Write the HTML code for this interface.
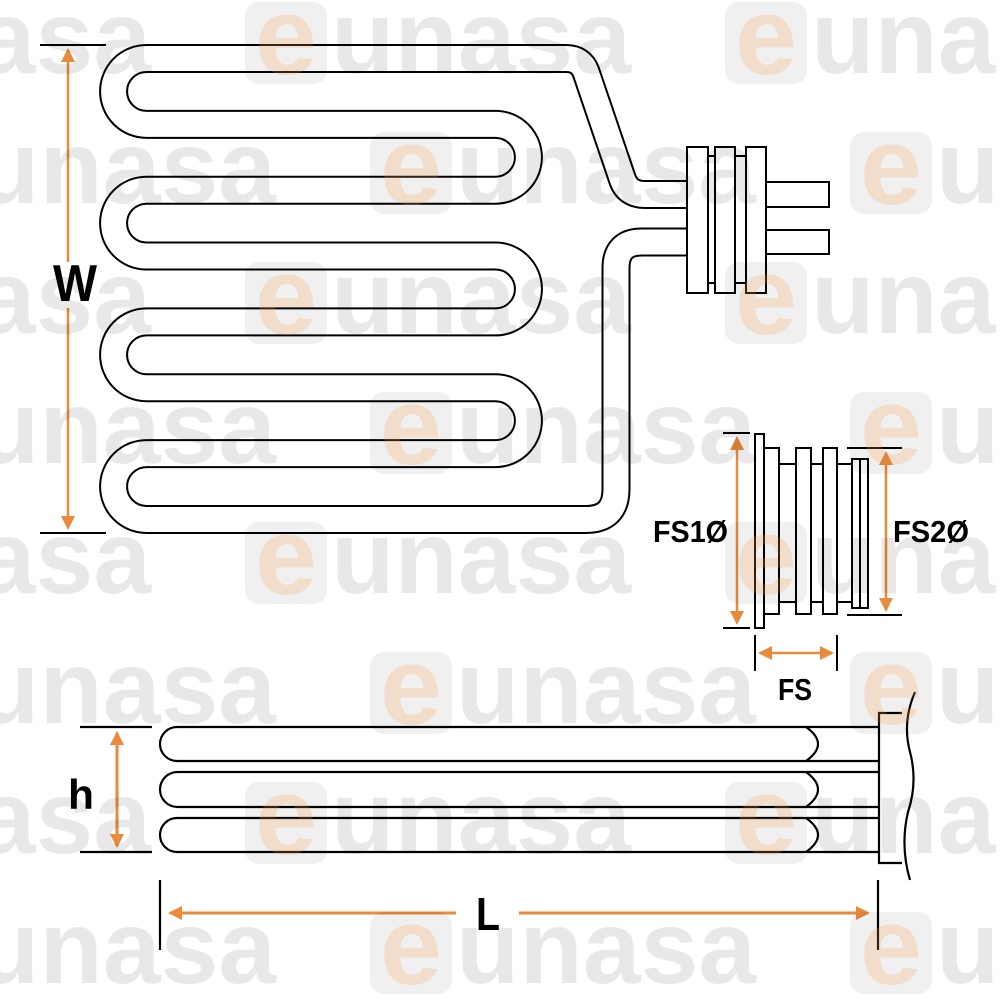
<!DOCTYPE html>
<html><head><meta charset="utf-8"><style>html,body{margin:0;padding:0;background:#fff}svg{display:block}</style></head>
<body>
<svg width="1000" height="1000" viewBox="0 0 1000 1000" xmlns="http://www.w3.org/2000/svg">
<rect width="1000" height="1000" fill="#fff"/>
<defs>
<marker id="ah" markerWidth="14" markerHeight="14" refX="12" refY="7" orient="auto-start-reverse" markerUnits="userSpaceOnUse" viewBox="0 0 14 14">
<path d="M0,0 L14,7 L0,14 z" fill="#ea8a3c"/></marker>
</defs>
<g fill="none" stroke-linejoin="round">
<path d="M 690 194.5 L 645 194.5 Q 627 194.5 622 178 L 586 72 Q 581 58.5 566 58.5 L 146.5 58.5 A 32.9 32.9 0 0 0 146.5 124.35 L 495.5 124.35 A 32.9 32.9 0 0 1 495.5 190.2 L 146.5 190.2 A 32.9 32.9 0 0 0 146.5 256.05 L 495.5 256.05 A 32.9 32.9 0 0 1 495.5 321.9 L 146.5 321.9 A 32.9 32.9 0 0 0 146.5 387.75 L 495.5 387.75 A 32.9 32.9 0 0 1 495.5 453.6 L 146.5 453.6 A 32.9 32.9 0 0 0 146.5 519.45 L 586 519.45 Q 616 519.45 616 489 L 616 268 Q 616 242 642 242 L 690 242" stroke="#000" stroke-width="29"/>
<path d="M 690 194.5 L 645 194.5 Q 627 194.5 622 178 L 586 72 Q 581 58.5 566 58.5 L 146.5 58.5 A 32.9 32.9 0 0 0 146.5 124.35 L 495.5 124.35 A 32.9 32.9 0 0 1 495.5 190.2 L 146.5 190.2 A 32.9 32.9 0 0 0 146.5 256.05 L 495.5 256.05 A 32.9 32.9 0 0 1 495.5 321.9 L 146.5 321.9 A 32.9 32.9 0 0 0 146.5 387.75 L 495.5 387.75 A 32.9 32.9 0 0 1 495.5 453.6 L 146.5 453.6 A 32.9 32.9 0 0 0 146.5 519.45 L 586 519.45 Q 616 519.45 616 489 L 616 268 Q 616 242 642 242 L 690 242" stroke="#fff" stroke-width="25"/>
</g>
<g fill="#fff" stroke="#000" stroke-width="2">
<rect x="766" y="182" width="63" height="25"/>
<rect x="766" y="230" width="63" height="24"/>
<rect x="707" y="156" width="9" height="127"/>
<rect x="734" y="156" width="13" height="127"/>
<rect x="687" y="147" width="21" height="146"/>
<rect x="715" y="147" width="20" height="146"/>
<rect x="746" y="147" width="20" height="146"/>
</g>
<g stroke="#000" stroke-width="2">
<line x1="40" y1="45" x2="106" y2="45"/>
<line x1="40" y1="533" x2="106" y2="533"/>
</g>
<line x1="68" y1="50" x2="68" y2="262" stroke="#ea8a3c" stroke-width="2.5" marker-start="url(#ah)"/>
<line x1="68" y1="308" x2="68" y2="528" stroke="#ea8a3c" stroke-width="2.5" marker-end="url(#ah)"/>
<text x="53" y="301" font-family="Liberation Sans, sans-serif" font-weight="bold" font-size="52" textLength="44" lengthAdjust="spacingAndGlyphs">W</text>
<g fill="#fff" stroke="#000" stroke-width="2">
<rect x="779" y="464" width="73" height="138"/>
<rect x="764" y="448" width="15" height="166"/>
<rect x="796" y="448" width="15" height="166"/>
<rect x="823" y="448" width="14" height="166"/>
<rect x="852" y="459" width="8" height="149"/>
<rect x="860" y="459" width="8" height="149"/>
<rect x="755" y="434" width="9" height="194"/>
</g>
<g stroke="#000" stroke-width="2">
<line x1="723" y1="433" x2="750" y2="433"/>
<line x1="723" y1="628" x2="750" y2="628"/>
<line x1="847" y1="448" x2="902" y2="448"/>
<line x1="847" y1="615" x2="902" y2="615"/>
<line x1="755" y1="635" x2="755" y2="671"/>
<line x1="837" y1="635" x2="837" y2="671"/>
</g>
<g stroke="#ea8a3c" stroke-width="2.5" fill="none">
<line x1="737" y1="438" x2="737" y2="623" marker-start="url(#ah)" marker-end="url(#ah)"/>
<line x1="886" y1="453" x2="886" y2="610" marker-start="url(#ah)" marker-end="url(#ah)"/>
<line x1="760" y1="653" x2="832" y2="653" marker-start="url(#ah)" marker-end="url(#ah)"/>
</g>
<g font-family="Liberation Sans, sans-serif" font-weight="bold" font-size="31" fill="#000">
<text x="653" y="542" textLength="75" lengthAdjust="spacingAndGlyphs">FS1Ø</text>
<text x="893" y="542" textLength="76" lengthAdjust="spacingAndGlyphs">FS2Ø</text>
<text x="778" y="700" textLength="34" lengthAdjust="spacingAndGlyphs">FS</text>
</g>
<g fill="none" stroke="#000" stroke-width="2.2">
<path d="M 879 727 L 177 727 A 17 17 0 0 0 177 761 L 879 761"/>
<path d="M 879 772 L 177.5 772 A 17.5 17.5 0 0 0 177.5 807 L 879 807"/>
<path d="M 879 818 L 177 818 A 17 17 0 0 0 177 852 L 879 852"/>
<path d="M 806 727 Q 830 744 806 761"/>
<path d="M 806 772 Q 830 789.5 806 807"/>
<path d="M 806 818 Q 830 835 806 852"/>
<path d="M 902 713 L 879 713 L 879 863 L 902 863"/>
<path d="M 915 692 Q 902 722 910 752 Q 918 782 908 812 Q 900 846 910 880"/>
<line x1="80" y1="727" x2="152" y2="727"/>
<line x1="80" y1="852" x2="152" y2="852"/>
<line x1="160" y1="880" x2="160" y2="950"/>
<line x1="878" y1="880" x2="878" y2="950"/>
</g>
<g stroke="#ea8a3c" stroke-width="3" fill="none">
<line x1="117" y1="733" x2="117" y2="846" marker-start="url(#ah)" marker-end="url(#ah)"/>
<line x1="170" y1="913" x2="456" y2="913" marker-start="url(#ah)"/>
<line x1="519" y1="913" x2="868" y2="913" marker-end="url(#ah)"/>
</g>
<g font-family="Liberation Sans, sans-serif" font-weight="bold" fill="#000">
<text x="68" y="809" font-size="42" textLength="26" lengthAdjust="spacingAndGlyphs">h</text>
<text x="476" y="930" font-size="46" textLength="24" lengthAdjust="spacingAndGlyphs">L</text>
</g>
<g font-family="Liberation Sans, sans-serif" font-weight="bold">
<g fill="rgba(0,0,0,0.06)">
<rect x="-235" y="2" width="82" height="82" rx="14"/><rect x="245" y="2" width="82" height="82" rx="14"/><rect x="725" y="2" width="82" height="82" rx="14"/>
<rect x="-110" y="132" width="82" height="82" rx="14"/><rect x="370" y="132" width="82" height="82" rx="14"/><rect x="850" y="132" width="82" height="82" rx="14"/>
<rect x="-235" y="262" width="82" height="82" rx="14"/><rect x="245" y="262" width="82" height="82" rx="14"/><rect x="725" y="262" width="82" height="82" rx="14"/>
<rect x="-110" y="392" width="82" height="82" rx="14"/><rect x="370" y="392" width="82" height="82" rx="14"/><rect x="850" y="392" width="82" height="82" rx="14"/>
<rect x="-235" y="522" width="82" height="82" rx="14"/><rect x="245" y="522" width="82" height="82" rx="14"/><rect x="725" y="522" width="82" height="82" rx="14"/>
<rect x="-110" y="652" width="82" height="82" rx="14"/><rect x="370" y="652" width="82" height="82" rx="14"/><rect x="850" y="652" width="82" height="82" rx="14"/>
<rect x="-235" y="782" width="82" height="82" rx="14"/><rect x="245" y="782" width="82" height="82" rx="14"/><rect x="725" y="782" width="82" height="82" rx="14"/>
<rect x="-110" y="912" width="82" height="82" rx="14"/><rect x="370" y="912" width="82" height="82" rx="14"/><rect x="850" y="912" width="82" height="82" rx="14"/>
</g>
<g fill="rgba(250,150,70,0.22)" font-size="110" text-anchor="middle">
<text x="286" y="74" textLength="62" lengthAdjust="spacingAndGlyphs">e</text><text x="766" y="74" textLength="62" lengthAdjust="spacingAndGlyphs">e</text>
<text x="411" y="204" textLength="62" lengthAdjust="spacingAndGlyphs">e</text><text x="891" y="204" textLength="62" lengthAdjust="spacingAndGlyphs">e</text>
<text x="286" y="334" textLength="62" lengthAdjust="spacingAndGlyphs">e</text><text x="766" y="334" textLength="62" lengthAdjust="spacingAndGlyphs">e</text>
<text x="411" y="464" textLength="62" lengthAdjust="spacingAndGlyphs">e</text><text x="891" y="464" textLength="62" lengthAdjust="spacingAndGlyphs">e</text>
<text x="286" y="594" textLength="62" lengthAdjust="spacingAndGlyphs">e</text><text x="766" y="594" textLength="62" lengthAdjust="spacingAndGlyphs">e</text>
<text x="411" y="724" textLength="62" lengthAdjust="spacingAndGlyphs">e</text><text x="891" y="724" textLength="62" lengthAdjust="spacingAndGlyphs">e</text>
<text x="286" y="854" textLength="62" lengthAdjust="spacingAndGlyphs">e</text><text x="766" y="854" textLength="62" lengthAdjust="spacingAndGlyphs">e</text>
<text x="411" y="984" textLength="62" lengthAdjust="spacingAndGlyphs">e</text><text x="891" y="984" textLength="62" lengthAdjust="spacingAndGlyphs">e</text>
</g>
<g fill="rgba(0,0,0,0.09)" font-size="104">
<text x="-149" y="73" textLength="300" lengthAdjust="spacingAndGlyphs">unasa</text><text x="331" y="73" textLength="300" lengthAdjust="spacingAndGlyphs">unasa</text><text x="811" y="73" textLength="300" lengthAdjust="spacingAndGlyphs">unasa</text>
<text x="-24" y="203" textLength="300" lengthAdjust="spacingAndGlyphs">unasa</text><text x="456" y="203" textLength="300" lengthAdjust="spacingAndGlyphs">unasa</text><text x="936" y="203" textLength="300" lengthAdjust="spacingAndGlyphs">unasa</text>
<text x="-149" y="333" textLength="300" lengthAdjust="spacingAndGlyphs">unasa</text><text x="331" y="333" textLength="300" lengthAdjust="spacingAndGlyphs">unasa</text><text x="811" y="333" textLength="300" lengthAdjust="spacingAndGlyphs">unasa</text>
<text x="-24" y="463" textLength="300" lengthAdjust="spacingAndGlyphs">unasa</text><text x="456" y="463" textLength="300" lengthAdjust="spacingAndGlyphs">unasa</text><text x="936" y="463" textLength="300" lengthAdjust="spacingAndGlyphs">unasa</text>
<text x="-149" y="593" textLength="300" lengthAdjust="spacingAndGlyphs">unasa</text><text x="331" y="593" textLength="300" lengthAdjust="spacingAndGlyphs">unasa</text><text x="811" y="593" textLength="300" lengthAdjust="spacingAndGlyphs">unasa</text>
<text x="-24" y="723" textLength="300" lengthAdjust="spacingAndGlyphs">unasa</text><text x="456" y="723" textLength="300" lengthAdjust="spacingAndGlyphs">unasa</text><text x="936" y="723" textLength="300" lengthAdjust="spacingAndGlyphs">unasa</text>
<text x="-149" y="853" textLength="300" lengthAdjust="spacingAndGlyphs">unasa</text><text x="331" y="853" textLength="300" lengthAdjust="spacingAndGlyphs">unasa</text><text x="811" y="853" textLength="300" lengthAdjust="spacingAndGlyphs">unasa</text>
<text x="-24" y="983" textLength="300" lengthAdjust="spacingAndGlyphs">unasa</text><text x="456" y="983" textLength="300" lengthAdjust="spacingAndGlyphs">unasa</text><text x="936" y="983" textLength="300" lengthAdjust="spacingAndGlyphs">unasa</text>
</g>
</g>
</svg>
</body></html>
